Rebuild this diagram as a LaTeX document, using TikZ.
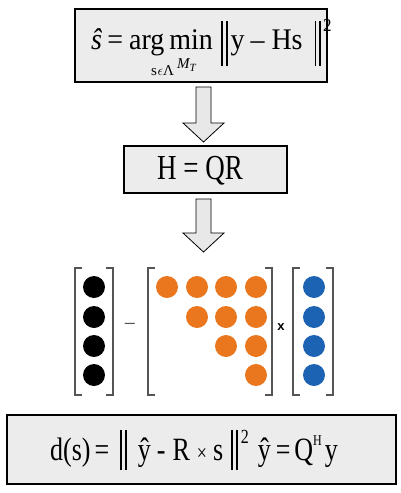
\documentclass[tikz,border=0pt]{standalone}
\usepackage{fontspec}
\setmainfont{Liberation Serif}
\newfontfamily\sansf{Liberation Sans}
\definecolor{boxgray}{RGB}{236,236,236}
\definecolor{arrgray}{RGB}{232,232,232}
\definecolor{orng}{RGB}{234,118,30}
\definecolor{blu}{RGB}{28,99,180}
\definecolor{brk}{RGB}{85,85,85}
\newcommand{\dbar}[2]{\smash{\rule[-#1]{1.8pt}{#2}\hspace{3pt}\rule[-#1]{1.8pt}{#2}}}
\begin{document}
\begin{tikzpicture}[x=1pt,y=-1pt,
  fbox/.style={draw=black,line width=1.1pt,fill=boxgray,inner sep=0pt},
  blockarrow/.style={draw=black,line width=0.8pt,fill=arrgray,line join=miter},
  bracket/.style={draw=brk,line width=1.6pt},
  dot/.style={circle,inner sep=0pt,minimum size=22pt},
  ftext/.style={inner sep=0pt,anchor=base west}]
\useasboundingbox (0,0) rectangle (400,493);
% boxes
\node[fbox,minimum width=252pt,minimum height=73pt] (b1) at (201,45.5) {};
\node[fbox,minimum width=163pt,minimum height=47pt] (b2) at (205.5,169.5) {};
\node[fbox,minimum width=389pt,minimum height=69pt] (b3) at (201.5,449.5) {};
% box 1 text
\node[ftext] (t1) at (91,49) {\scalebox{1}[1.07]{\fontsize{28}{28}\selectfont\textit{ŝ}\hspace{5pt}=\hspace{6pt}arg\hspace{5pt}min\hspace{8pt}\dbar{16pt}{42pt}\hspace{3pt}y\hspace{6pt}–\hspace{7pt}Hs\hspace{12pt}\dbar{16pt}{42pt}\hspace{2pt}\raisebox{16pt}{\fontsize{17}{17}\selectfont 2}}};
\node[ftext] (t1s) at (151,75) {\fontsize{15}{15}\selectfont s\hspace{0.5pt}$\epsilon$Λ\hspace{3pt}\raisebox{7pt}{\fontsize{15}{15}\selectfont\itshape M}\raisebox{4pt}{\fontsize{11}{11}\selectfont\itshape T}};
% box 2 text
\node[inner sep=0pt,anchor=base] (t2) at (200,179) {\scalebox{1}[1.3]{\fontsize{27}{27}\selectfont H = QR}};
% box 3 text
\node[ftext] (t3) at (50,460) {\scalebox{1}[1.25]{\fontsize{26}{26}\selectfont d(s)\hspace{4pt}=\hspace{11pt}\dbar{8pt}{32pt}\hspace{11pt}ŷ\hspace{6pt}-\hspace{7pt}R\hspace{7pt}{\fontsize{18}{18}\selectfont ×}\hspace{6pt}s\hspace{8pt}\dbar{8pt}{32pt}\hspace{3pt}\raisebox{13.5pt}{\fontsize{16}{16}\selectfont 2}\hspace{9pt}ŷ\hspace{5pt}=\hspace{4pt}Q\raisebox{11.5pt}{\fontsize{12}{12}\selectfont H}\hspace{3pt}y}};
% block arrows
\draw[blockarrow] (196,87) -- (211,87) -- (211,123) -- (224,123) -- (203.5,142) -- (183,123) -- (196,123) -- cycle;
\draw[blockarrow] (196,199) -- (211,199) -- (211,233) -- (224,233) -- (203.5,252) -- (183,233) -- (196,233) -- cycle;
% brackets
\draw[bracket] (82,268) -- (75,268) -- (75,395) -- (82,395);
\draw[bracket] (106,268) -- (113,268) -- (113,395) -- (106,395);
\draw[bracket] (155,268) -- (148,268) -- (148,395) -- (155,395);
\draw[bracket] (265,268) -- (272,268) -- (272,395) -- (265,395);
\draw[bracket] (300,268) -- (293,268) -- (293,395) -- (300,395);
\draw[bracket] (326,268) -- (333,268) -- (333,395) -- (326,395);
% circles
\foreach \r/\y in {1/287,2/317,3/346,4/375}{
  \node[dot,fill=black] (k\r) at (94,\y) {};
  \node[dot,fill=blu] (u\r) at (314,\y) {};
}
\foreach \c/\x in {1/167,2/197,3/226,4/256}{
  \foreach \r/\y in {1/287,2/317,3/346,4/375}{
    \pgfmathtruncatemacro{\show}{\c>=\r ? 1 : 0}
    \ifnum\show=1 \node[dot,fill=orng] (o\r\c) at (\x,\y) {};\fi
  }
}
\node[inner sep=0pt,text=brk] (minus) at (130,326) {\sansf\fontsize{18}{18}\selectfont –};
\node[inner sep=0pt] (times) at (281,327) {\sansf\bfseries\fontsize{13}{13}\selectfont x};
\end{tikzpicture}
\end{document}
